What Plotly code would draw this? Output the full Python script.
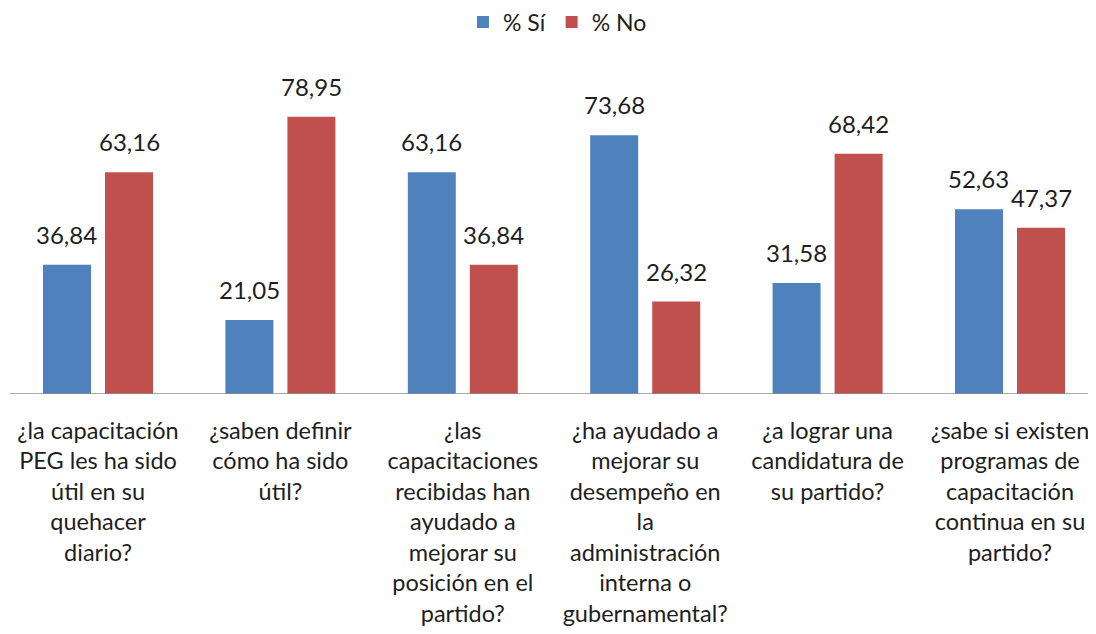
import plotly.graph_objects as go

categories = [
    "¿la capacitación<br>PEG les ha sido<br>útil en su<br>quehacer<br>diario?",
    "¿saben definir<br>cómo ha sido<br>útil?",
    "¿las<br>capacitaciones<br>recibidas han<br>ayudado a<br>mejorar su<br>posición en el<br>partido?",
    "¿ha ayudado a<br>mejorar su<br>desempeño en<br>la<br>administración<br>interna o<br>gubernamental?",
    "¿a lograr una<br>candidatura de<br>su partido?",
    "¿sabe si existen<br>programas de<br>capacitación<br>continua en su<br>partido?",
]
si_values = [36.84, 21.05, 63.16, 73.68, 31.58, 52.63]
no_values = [63.16, 78.95, 36.84, 26.32, 68.42, 47.37]
series_names = ["% Sí", "% No"]
colors = ["#4F81BD", "#C0504D"]

FONT = "Lato, Open Sans, sans-serif"
TXT = "#1e1e1e"
fmt = lambda v: f"{v:.2f}".replace(".", ",")

BARGAP = 0.32
W, H = 1088, 626          # page body has an 8px margin
CAT_PX = 182.4
FIRST_CENTER_PX = 90

xs = list(range(len(categories)))
fig = go.Figure()
for name, vals, col in zip(series_names, [si_values, no_values], colors):
    fig.add_trace(go.Bar(x=xs, y=vals, name=name,
                         marker=dict(color=col, line=dict(width=0))))

# value labels above bars (offset computed from group layout)
slot = (1 - BARGAP) / 2
for s, vals in enumerate([si_values, no_values]):
    off = (s - 0.5) * slot
    for i, v in enumerate(vals):
        fig.add_annotation(x=i + off, y=v, text=fmt(v), showarrow=False,
                           yanchor="bottom", yshift=14,
                           font=dict(size=24, color=TXT, family=FONT))

x0 = -FIRST_CENTER_PX / CAT_PX
x1 = (W - FIRST_CENTER_PX) / CAT_PX

fig.add_shape(type="line", xref="paper", yref="y", x0=2 / W, x1=1, y0=0, y1=0,
              line=dict(color="#8C8C8C", width=1.3))

fig.update_layout(
    width=W, height=H,
    margin=dict(l=0, r=0, t=70, b=240, autoexpand=False),
    paper_bgcolor="white", plot_bgcolor="white",
    barmode="group", bargap=BARGAP, bargroupgap=0.226,
    font=dict(family=FONT, size=21, color=TXT),
    showlegend=True,
    legend=dict(orientation="h", x=0.505, xanchor="center",
                y=1 - 14 / H, yanchor="middle", yref="container",
                font=dict(size=23, color=TXT), traceorder="normal"),
    xaxis=dict(
        tickmode="array", tickvals=xs, ticktext=categories,
        showline=False, ticks="", showgrid=False, zeroline=False,
        tickfont=dict(size=23.5, color=TXT), ticklabelstandoff=20,
        range=[x0, x1],
    ),
    yaxis=dict(range=[0, 90], visible=False, showgrid=False, zeroline=False),
)

fig.write_html("out.html")
